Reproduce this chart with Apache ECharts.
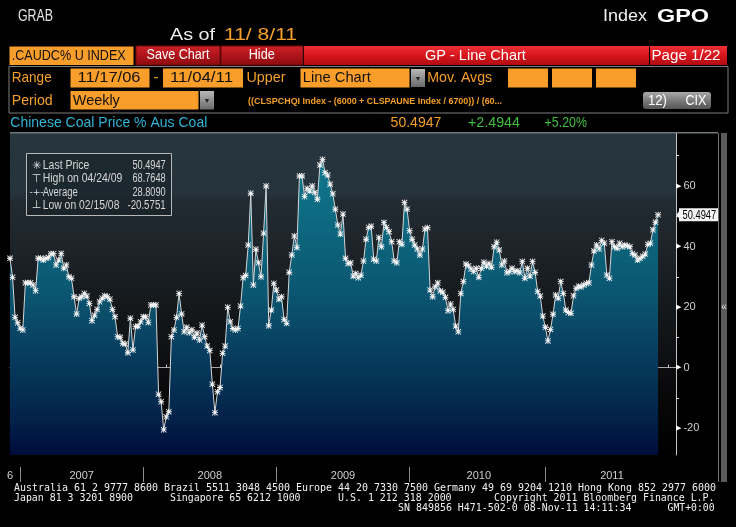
<!DOCTYPE html>
<html><head><meta charset="utf-8">
<script src="https://cdn.jsdelivr.net/npm/echarts@6/dist/echarts.min.js"></script>
<style>html,body{margin:0;padding:0;background:#000;}#c{width:736px;height:527px;}</style>
</head><body><div id="c"></div>
<script>
// ---- data (weekly, Chinese coal price % Aus coal) ----
const ratioPart1 = [36.1, 29.8, 16.6, 14.8, 13.0, 12.4, 28.0, 28.0, 28.0, 27.3, 25.4, 36.1, 36.1, 35.5, 36.1, 36.4, 37.6, 37.6, 33.9, 35.5, 37.7, 32.8, 33.9, 30.0, 29.5, 23.4, 17.7, 22.9, 23.4, 24.5, 23.6, 21.2, 15.5, 17.3, 19.2, 21.7, 22.9, 23.7, 23.4, 22.6, 19.2, 16.8, 10.2, 10.0];
const ratioPart2 = [8.0, 7.8, 4.9, 16.3, 5.8, 13.5, 13.7, 15.1, 16.8, 16.8, 14.9, 20.7, 20.7, 20.7, -8.8, -11.3, -20.5751, -16.3, -14.6, 10.2, 12.4, 16.6, 24.5, 17.7, 11.8, 13.3, 11.5, 12.5, 10.0, 11.4, 9.1, 14.0, 10.2, 7.1, 5.6, -5.5, -14.9, -8.0, -6.6, 4.7, 7.1, 19.9, 15.1, 12.9, 12.4, 12.9, 20.3];
const ratioPart3 = [29.7, 30.4, 40.5, 57.6, 27.3, 39.1, 34.6, 30.0, 44.4, 60.0, 13.8, 19.0, 27.8, 25.6, 22.6, 23.4, 15.9, 14.6, 31.5, 37.2, 43.5, 39.7, 63.3, 63.3, 56.5, 59.2, 58.3, 60.0, 57.8, 55.6, 66.9, 68.7648, 64.4, 63.6, 60.6, 57.4, 52.3, 47.1, 44.1];
const ratioPart4 = [50.7, 36.1, 34.4, 34.6, 30.2, 31.1, 29.7, 30.5, 35.2, 42.4, 46.3, 46.7, 35.8, 35.2, 43.0, 39.9, 47.9, 46.3, 44.9, 41.6, 35.2, 34.6, 41.6, 40.7, 54.5, 52.3, 45.2, 42.4, 40.5, 39.2, 37.2, 39.2, 45.8, 46.2, 25.6, 23.4, 26.7, 28.0, 25.3, 24.9, 23.2, 18.8];
const ratioPart5 = [21.0, 19.2, 13.7, 11.8, 24.5, 28.4, 34.2, 33.6, 32.6, 31.7, 32.8, 29.8, 32.8, 34.8, 33.5, 34.4, 33.1, 39.9, 41.4, 38.8, 33.9, 35.2, 31.3, 31.7, 32.8, 31.7, 32.0, 31.3, 35.0, 29.5, 32.8, 30.2, 35.0, 31.4, 25.1, 23.6, 17.0, 13.3, 8.8, 12.6, 17.6, 24.0, 22.9, 28.4];
const ratioPart6 = [24.5, 19.0, 18.2, 17.9, 23.7, 26.2, 26.9, 26.7, 27.3, 27.8, 28.0, 33.9, 38.5, 40.5, 39.2, 42.0, 41.1, 30.6, 29.5, 41.6, 39.9, 39.4, 41.1, 39.9, 40.5, 40.2, 39.9, 37.7, 37.2, 35.5, 36.1, 36.8, 37.5, 40.7, 41.1, 45.5, 48.0003, 50.4947];
const values = [].concat(ratioPart1, ratioPart2, ratioPart3, ratioPart4, ratioPart5, ratioPart6);

// x categories: weekly slots (a few empty slots remain after the last week)
const emptyWeeksAfter = 7;
const weeks = Array.from({length: values.length + emptyWeeksAfter}, (_, i) => 'w' + i);
const yearStarts = [4, 52, 104, 156, 209];          // week slot where each year begins
const yearLabels = ['2007', '2008', '2009', '2010', '2011'];
const yTickValues = [-20, -10, 0, 10, 20, 30, 40, 50, 60, 70];
const yLabelValues = [-20, 0, 20, 40, 60];
const legendNames = ['Last Price', 'High on 04/24/09', 'Average', 'Low on 02/15/08'];
const legendValues = ['50.4947', '68.7648', '28.8090', '-20.5751'];
const legendSymbols = ['\u2733', '\u22A4', '-+-', '\u22A5'];

// ---- helpers ----
const SANS = "'Liberation Sans',Arial,sans-serif";
const MONO = "'DejaVu Sans Mono','Liberation Mono',monospace";
const ORANGE = '#f6a02a', BOXOR = '#f99d2b';
const meas = document.createElement('canvas').getContext('2d');
function T(x, y, s, fill, size, o) {
  o = o || {};
  const font = (o.bold ? 'bold ' : '') + size + 'px ' + (o.font || SANS);
  let sx = 1;
  if (o.w) { meas.font = font; sx = o.w / meas.measureText(s).width; }
  return {type: 'text', x: x, y: y, scaleX: sx, z: 200, silent: true,
    style: {text: s, fill: fill, font: font,
      textAlign: o.align || 'left', textVerticalAlign: 'middle', verticalAlign: 'middle'}};
}
function R(x, y, w, h, fill, o) {
  o = o || {};
  return {type: 'rect', z: 190, silent: true, shape: {x: x, y: y, width: w, height: h, r: o.r || 0},
    style: {fill: fill, stroke: o.stroke || null, lineWidth: o.lw || 1}};
}
function lg(stops) {
  return new echarts.graphic.LinearGradient(0, 0, 0, 1, stops.map(s => ({offset: s[0], color: s[1]})));
}
const redG = lg([[0, '#ee3035'], [0.5, '#d8151c'], [1, '#b00c12']]);
const darkRedG = lg([[0, '#cf2026'], [1, '#8c0a0f']]);
const greyG = lg([[0, '#b8b8b8'], [1, '#6a6a6a']]);

// month ticks along the x axis
const monthTicks = new Set();
yearStarts.forEach((s, k) => {
  const e = k + 1 < yearStarts.length ? yearStarts[k + 1] : s + 52;
  for (let m = (k === 0 ? -1 : 0); m < 12; m++) monthTicks.add(Math.round(s + m * (e - s) / 12));
});
const labelAt = {0: '6'};
yearStarts.forEach((s, k) => {
  const e = k + 1 < yearStarts.length ? yearStarts[k + 1] : weeks.length - 1;
  labelAt[Math.round((s + e) / 2)] = yearLabels[k];
});

const asterisk = 'path://M4.3 0h1.4v10h-1.4z M0 4.3h10v1.4h-10z M1 0l9 9l-1 1l-9 -9z M9 0l1 1l-9 9l-1 -1z';

// ---- graphics (terminal chrome) ----
const g = [];
g.push(T(18, 17, 'GRAB', '#e6e6e6', 16, {w: 35}));
g.push(T(603, 17, 'Index', '#f2f2f2', 16, {w: 44}));
g.push(T(657, 17, 'GPO', '#ffffff', 19, {bold: true, w: 52}));
g.push(T(170, 35.5, 'As of', '#eeeeee', 16, {w: 45}));
g.push(T(224, 35.5, '11/ 8/11', ORANGE, 16, {w: 73}));
// button row
g.push(R(9.5, 46.5, 124, 18.5, BOXOR));
g.push(T(11.7, 56, '.CAUDC% U INDEX', '#111', 15, {w: 114}));
g.push(R(136, 46, 84, 19, darkRedG, {stroke: '#6d0a0c'}));
g.push(T(178, 55.5, 'Save Chart', '#fff', 14, {align: 'center', w: 63}));
g.push(R(221, 46, 82, 19, darkRedG, {stroke: '#6d0a0c'}));
g.push(T(261.7, 55.5, 'Hide', '#fff', 14, {align: 'center', w: 26}));
g.push(R(304, 46, 345, 19, redG));
g.push(T(475.4, 56, 'GP - Line Chart', '#fff', 15, {align: 'center', w: 101}));
g.push(R(650, 46, 77, 19, redG));
g.push(T(686, 56, 'Page 1/22', '#fff', 15, {align: 'center', w: 69}));
// settings panel
g.push(R(9, 66.5, 719, 46.5, null, {stroke: '#7c7c7c'}));
g.push(T(11.7, 78, 'Range', ORANGE, 15, {w: 40}));
g.push(R(70.5, 68.5, 79, 19, BOXOR));
g.push(T(77.5, 78, '11/17/06', '#111', 15, {w: 63}));
g.push(T(153.5, 78, '-', ORANGE, 15));
g.push(R(163, 68.5, 80, 19, BOXOR));
g.push(T(170, 78, '11/04/11', '#111', 15, {w: 63}));
g.push(T(246.5, 78, 'Upper', ORANGE, 15, {w: 39}));
g.push(R(300.5, 68.5, 109, 19, BOXOR));
g.push(T(302.8, 78, 'Line Chart', '#111', 15, {w: 68}));
g.push(R(411, 69, 14, 18, greyG));
g.push(T(418, 79, '\u25BC', '#222', 7, {align: 'center'}));
g.push(T(427.2, 78, 'Mov. Avgs', ORANGE, 15, {w: 65}));
g.push(R(508, 68.5, 40, 19, BOXOR));
g.push(R(552, 68.5, 40, 19, BOXOR));
g.push(R(596, 68.5, 40, 19, BOXOR));
g.push(T(11.7, 100.5, 'Period', ORANGE, 15, {w: 41}));
g.push(R(70.5, 91, 128, 18.5, BOXOR));
g.push(T(72.8, 100.5, 'Weekly', '#111', 15, {w: 47}));
g.push(R(200, 91, 14, 18.5, greyG));
g.push(T(207, 101.5, '\u25BC', '#222', 7, {align: 'center'}));
g.push(T(248, 101.5, '((CLSPCHQI Index - (6000 + CLSPAUNE Index / 6700)) / (60...', ORANGE, 9, {bold: true, w: 254}));
g.push(R(643, 92, 68, 17, lg([[0, '#a9a9a9'], [0.5, '#7b7b7b'], [1, '#555']]), {r: 3}));
g.push(T(648, 101, '12)', '#fff', 15, {w: 19}));
g.push(T(685.4, 101, 'CIX', '#fff', 15, {w: 21}));
// title row
g.push(T(10.3, 122.5, 'Chinese Coal Price % Aus Coal', '#30b4d8', 15, {w: 197}));
g.push(T(390.6, 122.5, '50.4947', ORANGE, 15, {w: 50.7}));
g.push(T(468, 122.5, '+2.4944', '#3fbf3f', 15, {w: 52}));
g.push(T(544.6, 122.5, '+5.20%', '#3fbf3f', 15, {w: 42.3}));
// chart frame pieces
g.push(R(10, 132, 708, 1.5, '#6c767b'));
g.push(R(718, 133, 1, 349, '#6e6e6e'));
g.push(R(721, 133, 6, 349, '#5b5b5b'));
g.push(T(724, 307, '\u00AB', '#e0e0e0', 10, {align: 'center'}));
// stats box
g.push(R(26.5, 153.5, 145, 62, 'rgba(24,33,39,0.6)', {stroke: '#b8b8b8'}));
const rowY = [166, 179, 192.5, 205.5];
const nameW = [46.7, 79.7, 35, 76.7];
const valW = [33.3, 33.3, 33.3, 38.3];
legendNames.forEach((n, i) => {
  g.push(T(36.5, rowY[i], legendSymbols[i], '#e0e0e0', i === 2 ? 9 : 11, {align: 'center', font: "'DejaVu Sans',sans-serif"}));
  g.push(T(42.7, rowY[i], n, '#d6d6d6', 12.5, {w: nameW[i]}));
  g.push(T(165.7, rowY[i], legendValues[i], '#d6d6d6', 12.5, {align: 'right', w: valW[i]}));
});
// footer
const FW = '#f2f2f2';
g.push(T(14, 488, 'Australia 61 2 9777 8600 Brazil 5511 3048 4500 Europe 44 20 7330 7500 Germany 49 69 9204 1210 Hong Kong 852 2977 6000', FW, 10.5, {font: MONO, w: 702}));
g.push(T(14, 498, 'Japan 81 3 3201 8900', FW, 10.5, {font: MONO, w: 119}));
g.push(T(170, 498, 'Singapore 65 6212 1000', FW, 10.5, {font: MONO, w: 130.5}));
g.push(T(338, 498, 'U.S. 1 212 318 2000', FW, 10.5, {font: MONO, w: 113.6}));
g.push(T(494, 498, 'Copyright 2011 Bloomberg Finance L.P.', FW, 10.5, {font: MONO, w: 220.5}));
g.push(T(398, 508, 'SN 849856 H471-502-0 08-Nov-11 14:11:34', FW, 10.5, {font: MONO, w: 233.5}));
g.push(T(667.6, 508, 'GMT+0:00', FW, 10.5, {font: MONO, w: 47}));

const bgGrad = {type: 'linear', x: 0, y: 0, x2: 0, y2: 1, colorStops: [
  {offset: 0, color: '#26353e'}, {offset: 0.19, color: '#25333c'}, {offset: 0.21, color: '#222b32'},
  {offset: 0.30, color: '#1f272d'}, {offset: 0.39, color: '#1b2127'}, {offset: 0.49, color: '#161b1f'},
  {offset: 0.58, color: '#131618'}, {offset: 0.67, color: '#101114'}, {offset: 0.77, color: '#0b0b0d'},
  {offset: 0.86, color: '#060607'}, {offset: 1, color: '#000000'}]};
const areaGrad = {type: 'linear', x: 0, y: 133, x2: 0, y2: 455, global: true, colorStops: [
  {offset: 0.0, color: '#10798e'}, {offset: 0.084, color: '#0f778c'}, {offset: 0.208, color: '#0e6e84'},
  {offset: 0.363, color: '#0c627a'}, {offset: 0.488, color: '#0b5772'}, {offset: 0.581, color: '#0a4b68'},
  {offset: 0.674, color: '#073e60'}, {offset: 0.767, color: '#053355'}, {offset: 0.86, color: '#03264c'},
  {offset: 0.953, color: '#011642'}, {offset: 1, color: '#000c3a'}]};

const chart = echarts.init(document.getElementById('c'), null, {renderer: 'canvas'});
const last = values.length - 1;
chart.setOption({
  backgroundColor: '#000',
  animation: false,
  grid: {left: 10, right: 60, top: 133, bottom: 72, show: true, backgroundColor: bgGrad, borderWidth: 0, outerBoundsMode: 'none'},
  xAxis: [{
    type: 'category', data: weeks, boundaryGap: false,
    axisLine: {show: true, lineStyle: {color: '#a8a8a8', width: 1}},
    axisTick: {show: true, inside: true, length: 3, interval: (i) => monthTicks.has(i), lineStyle: {color: '#c8c8c8'}},
    axisLabel: {show: true, interval: (i) => labelAt[i] !== undefined, formatter: (v, i) => labelAt[i] || '',
      color: '#cfcfcf', fontSize: 11, fontFamily: SANS, margin: 15},
    splitLine: {show: false}
  }, {
    type: 'category', data: weeks, boundaryGap: false, position: 'bottom', offset: 12,
    axisLine: {show: false},
    axisTick: {show: true, length: 15, interval: (i) => yearStarts.includes(i), lineStyle: {color: '#8c8c8c'}},
    axisLabel: {show: false}, splitLine: {show: false}
  }],
  yAxis: {
    type: 'value', position: 'right', min: -28.9, max: 77.5, scale: true,
    axisLine: {show: true, lineStyle: {color: '#c4c4c4'}},
    axisTick: {show: true, customValues: yTickValues, length: 3, lineStyle: {color: '#e6e6e6'}},
    axisLabel: {show: true, customValues: yLabelValues, margin: 0,
      formatter: (v) => '{t|\u25B6}{v|' + v + '}',
      rich: {t: {fontSize: 7, color: '#ffffff', padding: [0, 2, 0, 0], fontFamily: "'DejaVu Sans',sans-serif"},
             v: {fontSize: 11, color: '#cfcfcf', fontFamily: SANS}}},
    splitLine: {show: false}
  },
  series: [{
    type: 'line', data: values, xAxisIndex: 0,
    symbol: asterisk, symbolSize: 6, showSymbol: true, showAllSymbol: true,
    itemStyle: {color: '#f4f4f4'},
    lineStyle: {color: '#d2d5d8', width: 1},
    areaStyle: {origin: 'start', color: areaGrad, opacity: 1},
    z: 5
  }],
  graphic: g
});

// last-price flag on the value axis, placed through the chart's own scales
const lastPx = chart.convertToPixel({seriesIndex: 0}, [last, values[last]]);
const axisX = chart.convertToPixel({xAxisIndex: 0}, weeks.length - 1);
const ly = lastPx[1];
g.push({type: 'polygon', z: 195, silent: true, shape: {points: [[axisX + 0.5, ly], [axisX + 4, ly - 5], [axisX + 4, ly + 5]]}, style: {fill: '#f4f4f4'}});
g.push(R(axisX + 3, ly - 6.5, 39, 13, '#f4f4f4'));
g.push(T(axisX + 6.5, ly + 0.5, values[last].toFixed(4), '#000', 12.5, {w: 33.7}));
chart.setOption({graphic: g});
</script></body></html>
